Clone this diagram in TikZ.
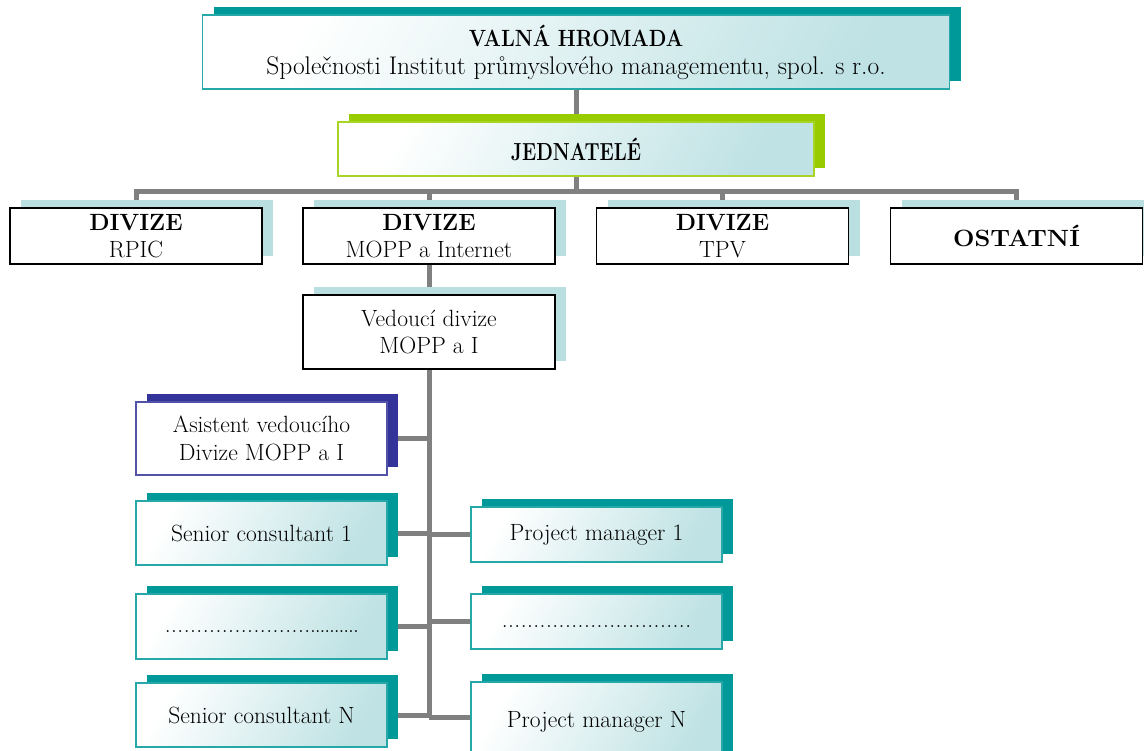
\documentclass[tikz,border=0pt]{standalone}
\usepackage{fontspec}
\usepackage{graphicx}
\usetikzlibrary{shadows, backgrounds}
\definecolor{cteal}{HTML}{009999}
\definecolor{clime}{HTML}{99CC00}
\definecolor{cnavy}{HTML}{333399}
\definecolor{cpale}{HTML}{B9DFE1}
\definecolor{cmist}{HTML}{BFE2E4}
\definecolor{cline}{HTML}{808080}
% a row of dots: width, spacing
\newcommand{\dotrow}[2]{\leavevmode\xleaders\hbox to #2{\hss.\hss}\hskip #1\relax}
\tikzset{
  every picture/.style={line width=1.5pt},
  lift/.style={drop shadow={shadow xshift=11pt, shadow yshift=8pt, opacity=1, fill=#1}},
  card/.style={draw=#1!85, lift=#1, rectangle, align=center, inner sep=2pt, minimum width=251pt, font=\fontsize{23.5}{28}\selectfont},
  sheen/.style={left color=white, right color=cmist, shading angle=60},
  unit/.style={draw=black, fill=white, lift=cpale, rectangle, align=center, inner sep=2pt, minimum width=252pt, minimum height=56pt, font=\fontsize{23.5}{27}\selectfont},
  link/.style={draw=cline, line width=5pt},
}
\begin{document}
\begin{tikzpicture}[x=1pt, y=-1pt]
  \useasboundingbox (0,0) rectangle (1144,751);
  % general meeting and executives
  \node[card=cteal, sheen, minimum width=747pt, minimum height=74pt] (valna) at (576,52) {\scalebox{0.87}[1]{\textbf{VALNÁ HROMADA}}\\{\fontsize{25.5}{28}\selectfont Společnosti Institut průmyslového managementu, spol. s r.o.}};
  \node[card=clime, sheen, minimum width=476pt, minimum height=54pt] (jednatele) at (576,149) {\scalebox{0.82}[1.05]{\textbf{JEDNATELÉ}}};
  % divisions
  \node[unit] (rpic) at (136,236) {\textbf{DIVIZE}\\RPIC};
  \node[unit] (mopp) at (429,236) {\textbf{DIVIZE}\\MOPP a Internet};
  \node[unit] (tpv) at (722.5,236) {\textbf{DIVIZE}\\TPV};
  \node[unit] (ostatni) at (1016.5,236) {\scalebox{1.08}[1]{\textbf{OSTATNÍ}}};
  \node[unit, minimum height=74pt] (vedouci) at (429,332) {Vedoucí divize\\MOPP a I};
  % staff of the MOPP division
  \node[card=cnavy, fill=white, minimum height=73pt] (asistent) at (261.5,438.5) {Asistent vedoucího\\Divize MOPP a I};
  \node[card=cteal, sheen, minimum height=64pt] (senior1) at (261.5,533) {Senior consultant 1};
  \node[card=cteal, sheen, minimum height=65pt] (dotsl) at (261.5,626.5) {\strut\dotrow{146pt}{6.3pt}\dotrow{48pt}{4.4pt}};
  \node[card=cteal, sheen, minimum height=64pt] (seniorN) at (261.5,715) {Senior consultant N};
  \node[card=cteal, sheen, minimum height=55pt] (manager1) at (596.5,534.5) {Project manager 1};
  \node[card=cteal, sheen, minimum height=55pt] (dotsr) at (596.5,621.5) {\strut\dotrow{190pt}{6.2pt}};
  \node[card=cteal, sheen, minimum height=80pt] (managerN) at (596.5,722) {Project manager N};
  % connectors
  \begin{scope}[on background layer]
    \coordinate (bus) at (576,192);
    \draw[link] (valna.south) -- (jednatele.north);
    \draw[link] (jednatele.south) -- (jednatele.south |- bus);
    \draw[link] (rpic.north) |- (bus) -| (ostatni.north);
    \draw[link] (mopp.north) -- (mopp.north |- bus);
    \draw[link] (tpv.north) -- (tpv.north |- bus);
    \draw[link] (mopp.south) -- (vedouci.north);
    \draw[link] (vedouci.south) -- ([yshift=5pt]vedouci.south |- managerN.west);
    \foreach \n in {asistent, senior1, dotsl, seniorN}
      \draw[link] (\n.east) -- (\n.east -| vedouci.south);
    \foreach \n in {manager1, dotsr}
      \draw[link] (\n.west) -- (\n.west -| vedouci.south);
    \draw[link] ([yshift=5pt]managerN.west) -- ([yshift=5pt]managerN.west -| vedouci.south);
  \end{scope}
\end{tikzpicture}
\end{document}
